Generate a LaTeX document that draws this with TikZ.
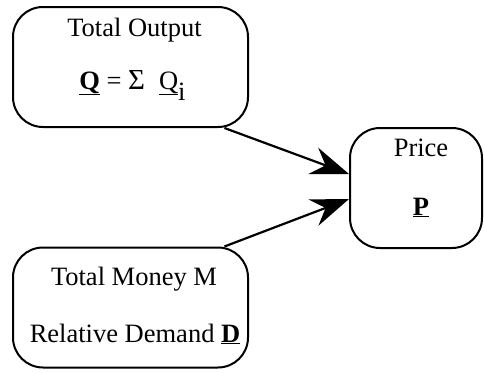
\documentclass[tikz,border=0pt]{standalone}
\usepackage{fontspec}
\setmainfont{Liberation Serif}
\usetikzlibrary{arrows.meta,calc}
\begin{document}
\begin{tikzpicture}[x=1pt,y=-1pt,
  box/.style={draw, line width=2pt, rounded corners=30pt, minimum width=235pt, minimum height=120pt, inner sep=0pt},
  lbl/.style={anchor=base, inner sep=0pt, font=\fontsize{26.5}{30}\selectfont},
  arr/.style={line width=2.2pt, -{Stealth[length=38pt,width=28pt,inset=13pt]}}]
\useasboundingbox (0,0) rectangle (484,372);
\node[box] (out) at (130.5,67) {};
\node[box] (mon) at (130.5,307.5) {};
\node[box, minimum width=132pt] (price) at (416,188) {};
\node[lbl] (t1) at (134.5,36) {Total Output};
\node[lbl] (t2) at (132.5,89) {\underline{\textbf{Q}} = {\fontsize{29}{30}\selectfont Σ}\hspace{14pt}\underline{Q}\raisebox{-11pt}{i}};
\node[lbl] (t3) at (421,156) {Price};
\node[lbl] (t4) at (421,215) {\underline{\textbf{P}}};
\node[lbl] (t5) at (134,285) {Total Money M};
\node[lbl] (t6) at (135,342) {Relative Demand \underline{\textbf{D}}};
\draw[arr] (out.-33) -- ($(price.west)+(0,-14)$);
\draw[arr] (mon.33) -- ($(price.west)+(0,11)$);
\end{tikzpicture}
\end{document}
